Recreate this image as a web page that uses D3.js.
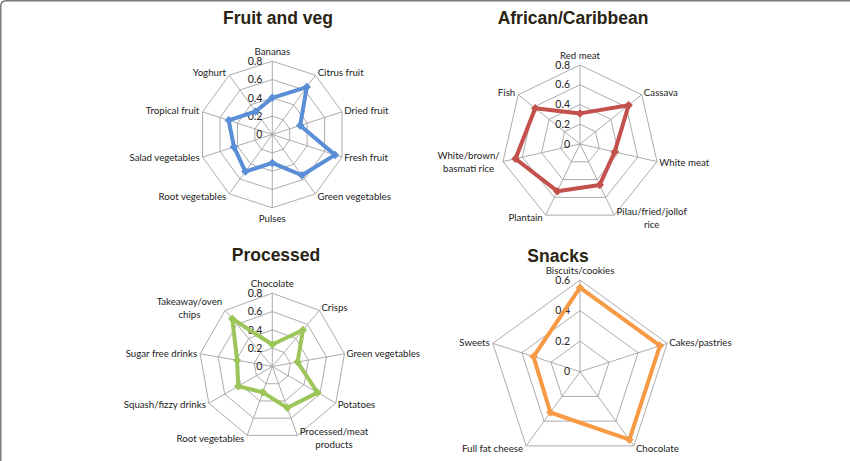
<!DOCTYPE html>
<html>
<head>
<meta charset="utf-8">
<script src="https://cdn.jsdelivr.net/npm/d3@7"></script>
<style>
  body { margin: 0; background: #fff; }
  svg { display: block; }
</style>
</head>
<body>
<div id="chart"></div>
<script>
// values
var fruitLabels = ['Bananas', 'Citrus fruit', 'Dried fruit', 'Fresh fruit', 'Green vegetables',
  'Pulses', 'Root vegetables', 'Salad vegetables', 'Tropical fruit', 'Yoghurt']
var fruitValues = [0.40, 0.64, 0.32, 0.72, 0.55, 0.31, 0.50, 0.44, 0.50, 0.31]

var africanLabels = ['Red meat', 'Cassava', 'White meat', 'Pilau/fried/jollof\nrice', 'Plantain',
  'White/brown/\nbasmati rice', 'Fish']
var africanValues = [0.31, 0.63, 0.36, 0.46, 0.53, 0.67, 0.58]

var processedLabels = ['Chocolate', 'Crisps', 'Green vegetables', 'Potatoes', 'Processed/meat\nproducts',
  'Root vegetables', 'Squash/fizzy drinks', 'Sugar free drinks', 'Takeaway/oven\nchips']
var processedValues = [0.24, 0.52, 0.28, 0.57, 0.48, 0.30, 0.43, 0.39, 0.68]

var snackLabels = ['Biscuits/cookies', 'Cakes/pastries', 'Chocolate', 'Full fat cheese', 'Sweets']
var snackValues = [0.55, 0.55, 0.55, 0.33, 0.32]

var ticks08 = [0, 0.2, 0.4, 0.6, 0.8]
var ticks06 = [0, 0.2, 0.4, 0.6]

var width = 850
var height = 461

var panels = [
  {title: 'Fruit and veg', labels: fruitLabels, values: fruitValues, ticks: ticks08,
    color: '#5A8ED6', cx: 272.3, cy: 134.5, r: 73.3, tx: 278, ty: 24},
  {title: 'African/Caribbean', labels: africanLabels, values: africanValues, ticks: ticks08,
    color: '#C4504C', cx: 580, cy: 144, r: 79, tx: 573, ty: 24},
  {title: 'Processed', labels: processedLabels, values: processedValues, ticks: ticks08,
    color: '#9CC55A', cx: 272.3, cy: 366.5, r: 73.3, tx: 276, ty: 260.5},
  {title: 'Snacks', labels: snackLabels, values: snackValues, ticks: ticks06,
    color: '#F79A45', cx: 580, cy: 371.7, r: 91.7, tx: 558, ty: 262}
]

var svg = d3.select('#chart')
  .append('svg')
  .attr('width', width)
  .attr('height', height)

svg.append('rect')
  .attr('width', width)
  .attr('height', height)
  .attr('fill', '#fff')

// frame along top and left edge, rounded top-left corner
svg.append('path')
  .attr('d', 'M0.75,' + height + ' V6 Q0.75,0.75 6,0.75 H' + width)
  .attr('fill', 'none')
  .attr('stroke', '#7a7a7a')
  .attr('stroke-width', 1.5)

panels.forEach(drawRadar)

function drawRadar(p) {
  var n = p.labels.length
  var maxTick = d3.max(p.ticks)
  var angleScale = d3.scaleLinear().domain([0, n]).range([0, 2 * Math.PI])
  var radiusScale = d3.scaleLinear().domain([0, maxTick]).range([0, p.r])

  var radial = d3.lineRadial()
    .angle(function(d, i) { return angleScale(i) })
    .radius(function(d) { return radiusScale(d) })
    .curve(d3.curveLinearClosed)

  svg.append('text')
    .attr('x', p.tx)
    .attr('y', p.ty)
    .attr('text-anchor', 'middle')
    .attr('font-family', 'Liberation Sans, Arial, sans-serif')
    .attr('font-weight', 'bold')
    .attr('font-size', 17.5)
    .attr('fill', '#2a2414')
    .text(p.title)

  var g = svg.append('g')
    .attr('transform', 'translate(' + p.cx + ',' + p.cy + ')')

  // grid rings
  g.selectAll('.ring')
    .data(p.ticks.slice(1))
    .enter().append('path')
    .attr('class', 'ring')
    .attr('d', function(t) { return radial(p.labels.map(function() { return t })) })
    .attr('fill', 'none')
    .attr('stroke', '#a3a3a3')
    .attr('stroke-width', 0.9)

  // spokes
  g.selectAll('.spoke')
    .data(p.labels)
    .enter().append('line')
    .attr('class', 'spoke')
    .attr('x1', 0)
    .attr('y1', 0)
    .attr('x2', function(d, i) { return radiusScale(maxTick) * Math.sin(angleScale(i)) })
    .attr('y2', function(d, i) { return -radiusScale(maxTick) * Math.cos(angleScale(i)) })
    .attr('stroke', '#a3a3a3')
    .attr('stroke-width', 0.9)

  // tick labels along the first axis
  g.selectAll('.tick')
    .data(p.ticks)
    .enter().append('text')
    .attr('class', 'tick')
    .attr('x', -10)
    .attr('y', function(t) { return -radiusScale(t) })
    .attr('dy', '0.35em')
    .attr('text-anchor', 'end')
    .attr('font-family', 'Lato, sans-serif')
    .attr('font-size', 10.5)
    .attr('fill', '#222')
    .text(function(t) { return t === 0 ? '0' : d3.format('.1f')(t) })

  // series line
  g.append('path')
    .attr('d', radial(p.values))
    .attr('fill', 'none')
    .attr('stroke', p.color)
    .attr('stroke-width', 4)
    .attr('stroke-linejoin', 'round')

  var diamond = d3.symbol().type(d3.symbolSquare).size(36)
  g.selectAll('.marker')
    .data(p.values)
    .enter().append('path')
    .attr('class', 'marker')
    .attr('d', diamond)
    .attr('fill', p.color)
    .attr('transform', function(d, i) {
      var a = angleScale(i)
      return 'translate(' + radiusScale(d) * Math.sin(a) + ',' + (-radiusScale(d) * Math.cos(a)) + ') rotate(45)'
    })

  // category labels around the outside
  var lh = 12.5
  p.labels.forEach(function(lab, i) {
    var a = angleScale(i)
    var s = Math.sin(a)
    var c = Math.cos(a)
    var R = radiusScale(maxTick)
    var vx = R * s
    var vy = -R * c
    var lines = lab.split('\n')
    var t = g.append('text')
      .attr('class', 'label')
      .attr('text-anchor', 'middle')
      .attr('font-family', 'Lato, sans-serif')
      .attr('font-size', 9.7)
      .attr('fill', '#222')
    lines.forEach(function(ln, k) {
      t.append('tspan').attr('x', 0).attr('y', k * lh).text(ln)
    })
    var w = t.node().getBBox().width
    var h = lines.length * lh
    var bx, by
    if (Math.abs(s) < 0.05) bx = vx
    else if (s > 0) bx = vx + 2 + w / 2
    else bx = vx - 3 - w / 2
    if (c > 0.95) by = vy - 3 - h / 2
    else if (c < -0.95) by = vy + 4.5 + h / 2
    else by = vy - c * 3
    t.selectAll('tspan')
      .attr('x', bx)
      .attr('y', function(d, k) { return by - h / 2 + lh / 2 + k * lh })
      .attr('dy', '0.35em')
  })
}
</script>
</body>
</html>
